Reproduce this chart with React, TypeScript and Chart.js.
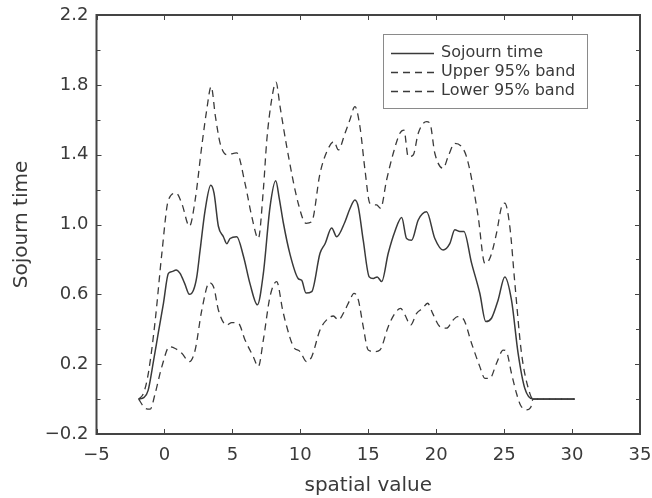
import React, { useEffect, useRef } from "react";
import { Chart, registerables } from "chart.js";

Chart.register(...registerables);

const solidX = [-1.9, -1.5, -1.2, -0.8, -0.45, -0.07, 0.29, 0.55, 0.86, 1.15, 1.5, 1.84, 2.14, 2.38, 2.62, 2.99, 3.41, 3.65, 3.97, 4.34, 4.59, 4.83, 5.32, 5.81, 6.3, 6.84, 7.28, 7.77, 8.19, 8.45, 8.75, 9.24, 9.85, 10.1, 10.42, 10.84, 11.45, 11.82, 12.31, 12.68, 13.29, 13.65, 14.02, 14.27, 14.63, 15.07, 15.37, 15.66, 15.99, 16.47, 16.96, 17.46, 17.82, 18.19, 18.68, 19.29, 19.9, 20.51, 21.0, 21.37, 21.74, 22.04, 22.6, 23.21, 23.65, 24.07, 24.56, 25.05, 25.54, 26.03, 26.52, 27.13, 30.2];
const solidY = [0.0, 0.01, 0.05, 0.22, 0.38, 0.55, 0.72, 0.73, 0.74, 0.72, 0.66, 0.6, 0.625, 0.7, 0.85, 1.08, 1.225, 1.18, 0.99, 0.93, 0.89, 0.92, 0.93, 0.82, 0.66, 0.54, 0.72, 1.1, 1.25, 1.15, 1.01, 0.83, 0.69, 0.68, 0.607, 0.615, 0.835, 0.89, 0.98, 0.93, 1.016, 1.09, 1.14, 1.1, 0.91, 0.7, 0.69, 0.7, 0.673, 0.835, 0.96, 1.04, 0.92, 0.91, 1.026, 1.073, 0.92, 0.854, 0.89, 0.97, 0.96, 0.96, 0.78, 0.606, 0.444, 0.463, 0.568, 0.7, 0.568, 0.262, 0.062, 0.0, 0.0];

const upperX = [-1.9, -1.54, -1.18, -0.68, -0.19, 0.29, 0.86, 1.28, 1.84, 2.26, 2.75, 3.1, 3.44, 3.75, 4.1, 4.59, 5.32, 5.93, 6.43, 6.91, 7.28, 7.53, 7.9, 8.21, 8.51, 9.0, 9.85, 10.42, 10.84, 11.45, 12.06, 12.48, 12.8, 13.29, 13.65, 14.02, 14.39, 14.76, 15.12, 15.62, 15.91, 16.35, 16.84, 17.33, 17.63, 17.94, 18.31, 18.68, 19.29, 19.54, 19.9, 20.51, 20.88, 21.37, 21.87, 22.23, 22.72, 23.09, 23.58, 23.95, 24.44, 24.81, 25.05, 25.42, 25.79, 26.28, 26.89, 27.13, 30.2];
const upperY = [0.0, 0.033, 0.15, 0.45, 0.835, 1.14, 1.18, 1.12, 0.99, 1.14, 1.45, 1.65, 1.79, 1.62, 1.465, 1.4, 1.41, 1.236, 1.045, 0.92, 1.2, 1.48, 1.72, 1.815, 1.675, 1.446, 1.12, 1.007, 1.016, 1.293, 1.436, 1.475, 1.427, 1.523, 1.6, 1.675, 1.56, 1.312, 1.122, 1.112, 1.093, 1.255, 1.408, 1.523, 1.541, 1.389, 1.398, 1.523, 1.589, 1.58, 1.408, 1.322, 1.389, 1.465, 1.446, 1.389, 1.217, 1.045, 0.778, 0.806, 0.95, 1.102, 1.122, 0.988, 0.663, 0.262, 0.033, 0.0, 0.0];

const lowerX = [-1.9, -1.42, -1.05, -0.68, -0.19, 0.37, 0.79, 1.28, 1.84, 2.26, 2.75, 3.31, 3.65, 3.97, 4.59, 4.95, 5.44, 5.93, 6.54, 6.91, 7.28, 7.77, 8.26, 8.7, 8.95, 9.49, 9.98, 10.47, 10.84, 11.45, 12.06, 12.43, 12.8, 13.29, 13.65, 13.95, 14.27, 14.63, 15.0, 15.49, 15.86, 16.47, 16.96, 17.38, 17.7, 18.12, 18.56, 19.0, 19.37, 19.74, 20.27, 20.76, 21.25, 21.57, 21.99, 22.6, 23.21, 23.58, 23.95, 24.44, 24.93, 25.17, 25.54, 25.91, 26.2, 26.65, 26.96, 27.13, 30.2];
const lowerY = [0.0, -0.052, -0.058, 0.033, 0.186, 0.3, 0.29, 0.262, 0.214, 0.281, 0.51, 0.667, 0.635, 0.51, 0.424, 0.438, 0.434, 0.339, 0.243, 0.186, 0.339, 0.587, 0.673, 0.51, 0.43, 0.3, 0.272, 0.214, 0.243, 0.396, 0.463, 0.476, 0.453, 0.51, 0.568, 0.606, 0.568, 0.415, 0.281, 0.272, 0.281, 0.415, 0.491, 0.52, 0.482, 0.424, 0.491, 0.52, 0.549, 0.491, 0.415, 0.406, 0.453, 0.472, 0.46, 0.32, 0.186, 0.119, 0.119, 0.205, 0.281, 0.272, 0.148, 0.033, -0.034, -0.062, -0.047, 0.0, 0.0];

const seriesLabels = ["Sojourn time", "Upper 95% band", "Lower 95% band"];
const xTickValues = [-5, 0, 5, 10, 15, 20, 25, 30, 35];
const xTickLabels = ["\u22125", "0", "5", "10", "15", "20", "25", "30", "35"];
const yTickValues = [-0.2, 0.2, 0.6, 1.0, 1.4, 1.8, 2.2];
const yTickLabels = ["\u22120.2", "0.2", "0.6", "1.0", "1.4", "1.8", "2.2"];
const yMinorValues = [0.0, 0.4, 0.8, 1.2, 1.6, 2.0];
const xTitle = "spatial value";
const yTitle = "Sojourn time";

const FONT = "'DejaVu Sans', sans-serif";
const INK = "#3a3a3a";

const toPoints = (xs: number[], ys: number[]) => xs.map((x, i) => ({ x, y: ys[i] }));

const framePlugin = {
  id: "frameTicks",
  afterDraw(chart: any) {
    const { ctx, chartArea: a, scales } = chart;
    const xs = scales.x;
    const ys = scales.y;
    ctx.save();
    ctx.strokeStyle = "#444";
    ctx.lineWidth = 1;
    xTickValues.forEach((v) => {
      const px = Math.round(xs.getPixelForValue(v)) + 0.5;
      ctx.beginPath();
      ctx.moveTo(px, a.bottom);
      ctx.lineTo(px, a.bottom - 5);
      ctx.moveTo(px, a.top);
      ctx.lineTo(px, a.top + 5);
      ctx.stroke();
    });
    yTickValues.forEach((v) => {
      const py = Math.round(ys.getPixelForValue(v)) + 0.5;
      ctx.beginPath();
      ctx.moveTo(a.left, py);
      ctx.lineTo(a.left + 5, py);
      ctx.moveTo(a.right, py);
      ctx.lineTo(a.right - 5, py);
      ctx.stroke();
    });
    yMinorValues.forEach((v) => {
      const py = Math.round(ys.getPixelForValue(v)) + 0.5;
      ctx.beginPath();
      ctx.moveTo(a.left, py);
      ctx.lineTo(a.left + 4, py);
      ctx.moveTo(a.right, py);
      ctx.lineTo(a.right - 4, py);
      ctx.stroke();
    });
    ctx.lineWidth = 2;
    ctx.strokeStyle = "#444";
    ctx.strokeRect(a.left, a.top, a.right - a.left, a.bottom - a.top);

    // legend
    const boxRight = a.right - 53;
    const boxLeft = boxRight - 204;
    const boxTop = a.top + 19;
    const boxH = 74;
    ctx.fillStyle = "#fff";
    ctx.fillRect(boxLeft, boxTop, boxRight - boxLeft, boxH);
    ctx.lineWidth = 1;
    ctx.strokeStyle = "#8a8a8a";
    ctx.strokeRect(boxLeft + 0.5, boxTop + 0.5, boxRight - boxLeft, boxH);
    ctx.font = "16px " + FONT;
    ctx.textBaseline = "middle";
    ctx.textAlign = "left";
    chart.data.datasets.forEach((ds: any, i: number) => {
      const ry = boxTop + 19 + i * 19;
      ctx.beginPath();
      ctx.strokeStyle = ds.borderColor;
      ctx.lineWidth = 1.3;
      ctx.setLineDash(ds.borderDash || []);
      ctx.moveTo(boxLeft + 8, ry + 0.5);
      ctx.lineTo(boxLeft + 51, ry + 0.5);
      ctx.stroke();
      ctx.setLineDash([]);
      ctx.fillStyle = INK;
      ctx.fillText(ds.label, boxLeft + 58, ry);
    });
    ctx.restore();
  },
};

export default function App() {
  const ref = useRef<HTMLCanvasElement>(null);
  useEffect(() => {
    const canvas = ref.current;
    if (!canvas) return;
    const chart = new Chart(canvas, {
      type: "line",
      data: {
        datasets: [
          {
            label: seriesLabels[0],
            data: toPoints(solidX, solidY),
            borderColor: INK,
            borderWidth: 1.5,
            pointRadius: 0,
            cubicInterpolationMode: "monotone",
            fill: false,
          },
          {
            label: seriesLabels[1],
            data: toPoints(upperX, upperY),
            borderColor: INK,
            borderWidth: 1.3,
            borderDash: [7, 5],
            pointRadius: 0,
            cubicInterpolationMode: "monotone",
            fill: false,
          },
          {
            label: seriesLabels[2],
            data: toPoints(lowerX, lowerY),
            borderColor: INK,
            borderWidth: 1.3,
            borderDash: [7, 5],
            pointRadius: 0,
            cubicInterpolationMode: "monotone",
            fill: false,
          },
        ],
      },
      options: {
        responsive: false,
        animation: false,
        layout: { padding: { top: 15, right: 12, left: 0, bottom: 0 } },
        plugins: { legend: { display: false }, tooltip: { enabled: false } },
        scales: {
          x: {
            type: "linear",
            min: -5,
            max: 35,
            grid: { display: false, drawTicks: false },
            border: { display: false },
            afterBuildTicks: (s: any) => {
              s.ticks = xTickValues.map((v) => ({ value: v }));
            },
            afterFit: (s: any) => {
              s.height = 64;
              s.paddingLeft = 0;
              s.paddingRight = 0;
            },
            ticks: {
              autoSkip: false,
              maxRotation: 0,
              padding: 11,
              color: INK,
              font: { family: FONT, size: 18 },
              callback: (_v: any, i: number) => xTickLabels[i],
            },
            title: {
              display: true,
              text: xTitle,
              color: INK,
              font: { family: FONT, size: 20 },
              padding: { top: 5, bottom: 0 },
            },
          },
          y: {
            type: "linear",
            min: -0.2,
            max: 2.2,
            grid: { display: false, drawTicks: false },
            border: { display: false },
            afterBuildTicks: (s: any) => {
              s.ticks = yTickValues.map((v) => ({ value: v }));
            },
            afterFit: (s: any) => {
              s.width = 96.5;
              s.paddingTop = 0;
              s.paddingBottom = 0;
            },
            ticks: {
              autoSkip: false,
              padding: 8,
              color: INK,
              font: { family: FONT, size: 18 },
              callback: (_v: any, i: number) => yTickLabels[i],
            },
            title: {
              display: true,
              text: yTitle,
              color: INK,
              font: { family: FONT, size: 20 },
              padding: { top: 10, bottom: 0 },
            },
          },
        },
      },
      plugins: [framePlugin],
    } as any);
    return () => chart.destroy();
  }, []);
  return (
    <div style={{ position: "absolute", left: 0, top: 0, width: 652, height: 498, background: "#fff" }}>
      <canvas ref={ref} width={652} height={498} />
    </div>
  );
}
